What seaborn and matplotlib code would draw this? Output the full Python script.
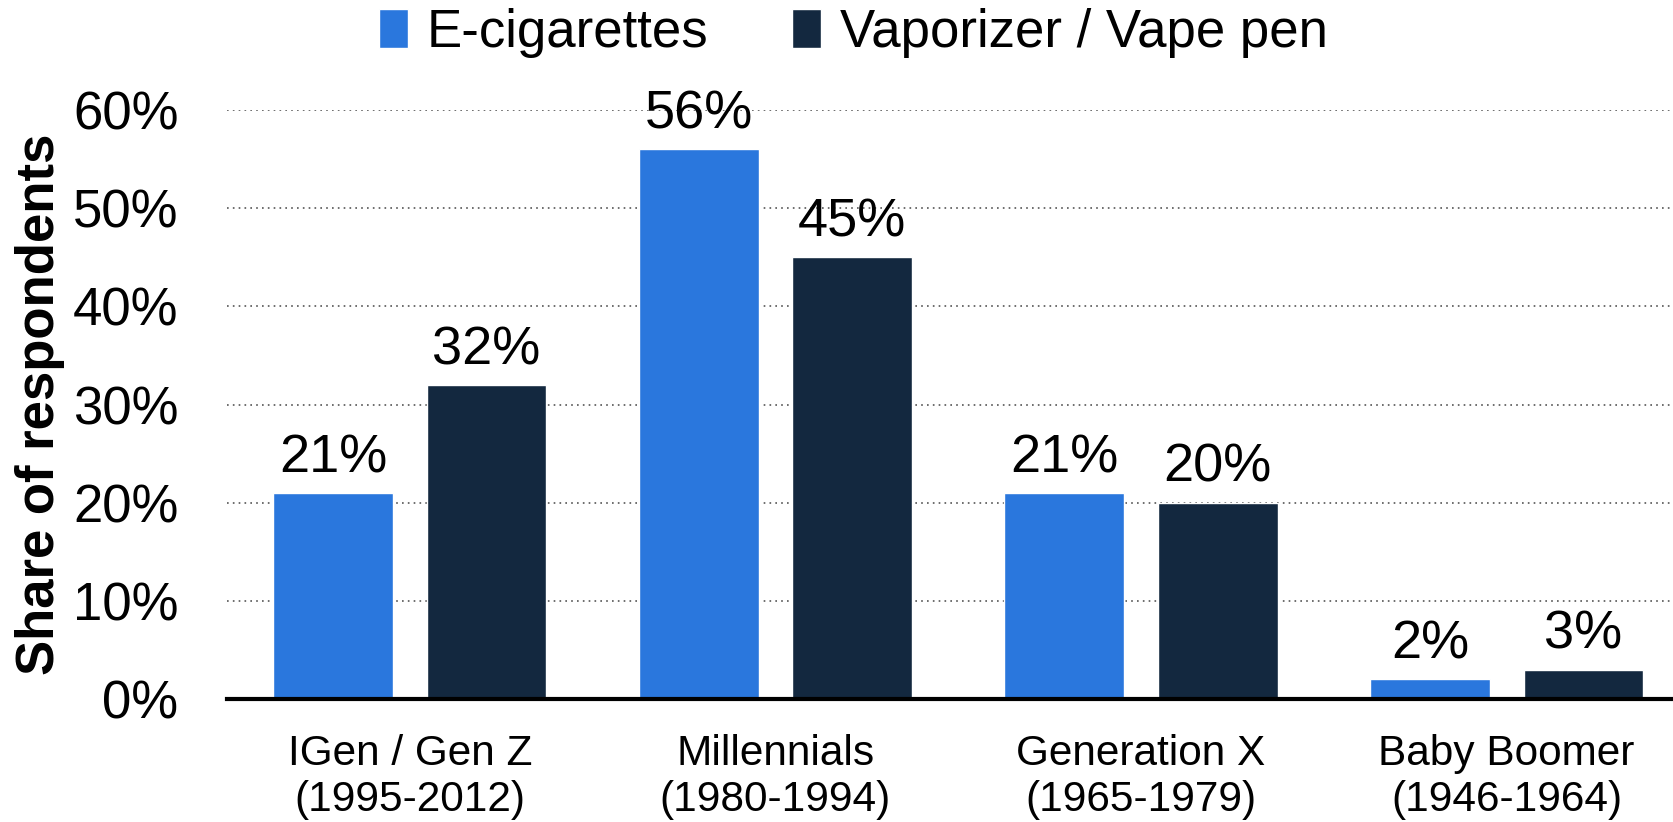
import matplotlib
matplotlib.use("Agg")
import matplotlib.pyplot as plt
import pandas as pd
import seaborn as sns

generations = [
    "IGen / Gen Z\n(1995-2012)",
    "Millennials\n(1980-1994)",
    "Generation X\n(1965-1979)",
    "Baby Boomer\n(1946-1964)",
]
devices = ["E-cigarettes", "Vaporizer / Vape pen"]
e_cig = [21, 56, 21, 2]
vape_pen = [32, 45, 20, 3]
y_ticks = [0, 10, 20, 30, 40, 50, 60]

colors = ["#2a77dd", "#13283f"]

df = pd.DataFrame({
    "Generation": generations * 2,
    "Device": [devices[0]] * len(generations) + [devices[1]] * len(generations),
    "Share": e_cig + vape_pen,
})

sns.set_style("white")
plt.rcParams["font.family"] = ["Liberation Sans", "DejaVu Sans"]
plt.rcParams["text.color"] = "black"
plt.rcParams["axes.labelcolor"] = "black"
plt.rcParams["xtick.color"] = "black"
plt.rcParams["ytick.color"] = "black"

fig = plt.figure(figsize=(16.73, 8.22), dpi=100)
ax = fig.add_axes([0.1357, 0.1496, 0.8643, 0.7166])

sns.barplot(data=df, x="Generation", y="Share", hue="Device", order=generations,
            hue_order=devices, palette=colors, width=0.84, gap=0.22, ax=ax,
            saturation=1, errorbar=None)

for cont in ax.containers:
    ax.bar_label(cont, fmt="%.0f%%", padding=7, fontsize=39, clip_on=False)

ax.set_ylim(0, 60)
ax.set_xlim(-0.5, 3.455)
ax.set_yticks(y_ticks)
ax.set_yticklabels([f"{t}%" for t in y_ticks], fontsize=38)
ax.tick_params(axis="y", length=0, pad=35)
ax.tick_params(axis="x", length=0, pad=25, labelsize=30.5)
ax.yaxis.grid(True, linestyle=(0, (1, 2.5)), color="#555555", linewidth=1.2)
ax.set_axisbelow(True)
for side in ["top", "right", "left"]:
    ax.spines[side].set_visible(False)
ax.spines["bottom"].set_color("black")
ax.spines["bottom"].set_linewidth(3)

ax.set_xlabel("")
ax.set_ylabel("Share of respondents", fontsize=38, fontweight="bold")
ax.yaxis.set_label_coords(-0.112, 0.5)

handles, labels = ax.get_legend_handles_labels()
ax.get_legend().remove()
fig.legend(handles, labels, loc="center", bbox_to_anchor=(0.51, 0.96), ncol=2,
           frameon=False, fontsize=38, handlelength=0.55, handleheight=0.75,
           handletextpad=0.35, columnspacing=1.6)

fig.savefig("out.png", dpi=100)
